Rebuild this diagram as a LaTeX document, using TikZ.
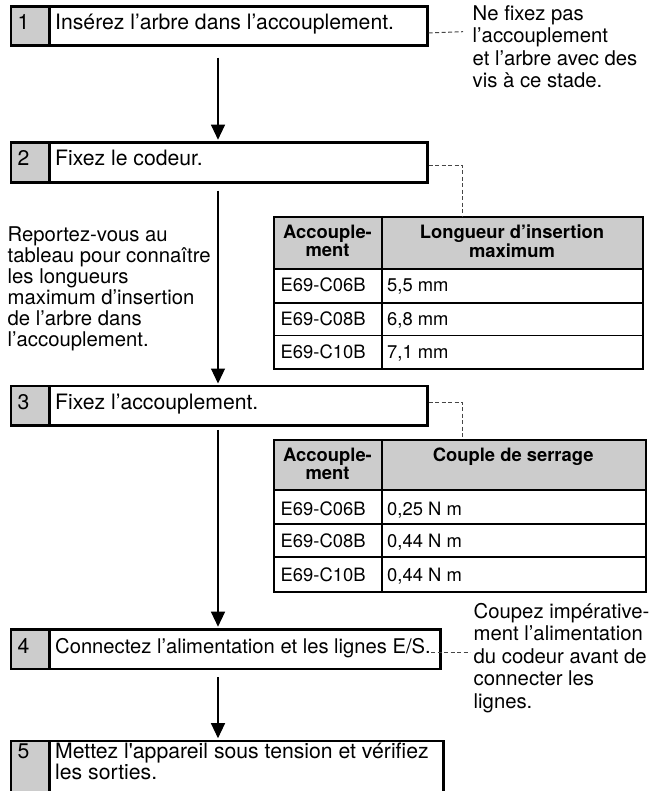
\documentclass[tikz,border=0pt]{standalone}
\usepackage{fontspec}
\setmainfont{TeX Gyre Heros}[Ligatures=TeXOff]
\usetikzlibrary{arrows.meta}
\definecolor{cellgray}{RGB}{204,204,204}
\definecolor{leadgray}{RGB}{70,70,70}
\newcommand{\stepfont}{\fontsize{21.2}{20}\selectfont}
\newcommand{\tabfont}{\fontsize{18.4}{16.8}\selectfont}
\tikzset{
  stepbox/.style={rectangle, draw, line width=2.6pt, inner sep=0pt, anchor=north west,
    path picture={
      \fill[cellgray] (path picture bounding box.north west) rectangle ([xshift=38.5pt]path picture bounding box.south west);
      \draw[line width=2.6pt] ([xshift=38.5pt]path picture bounding box.north west) -- ([xshift=38.5pt]path picture bounding box.south west);}},
  steptext/.style={inner sep=0pt, anchor=base west, font=\stepfont},
  notetext/.style={inner sep=0pt, anchor=base west},
  tabframe/.style={rectangle, draw, line width=2pt, inner sep=0pt, anchor=north west},
  tabtext/.style={inner sep=0pt, anchor=base west, font=\tabfont},
  tabhead/.style={inner sep=0pt, anchor=base, font=\tabfont\bfseries},
  rowline/.style={line width=1.3pt},
  flow/.style={line width=1.2pt, -{Triangle[width=14pt,length=15pt]}},
  lead/.style={draw=leadgray, line width=1pt, dash pattern=on 4pt off 2.5pt}
}
\begin{document}
\begin{tikzpicture}[x=1pt,y=-1pt]
\path[fill=white, use as bounding box] (0,0) rectangle (659,791);
\coordinate (axis) at (218,0);

% step boxes
\node[stepbox, minimum width=416.5pt, minimum height=39pt] (b1) at (9.5,5) {};
\node[stepbox, minimum width=416.5pt, minimum height=40pt] (b2) at (9.5,141) {};
\node[stepbox, minimum width=416.5pt, minimum height=39.5pt] (b3) at (9.5,384.8) {};
\node[stepbox, minimum width=429.5pt, minimum height=39.8pt] (b4) at (9.5,628) {};
\node[stepbox, minimum width=432.5pt, minimum height=51pt] (b5) at (9.5,739.5) {};

% numbers and texts
\node[steptext] (n1) at (17.5,29.5) {1};
\node[steptext] (t1) at (55,29.5) {Insérez l’arbre dans l’accouplement.};
\node[steptext] (n2) at (17.5,166) {2};
\node[steptext] (t2) at (55,166) {Fixez le codeur.};
\node[steptext] (n3) at (17.5,409.5) {3};
\node[steptext] (t3) at (55,409.5) {Fixez l’accouplement.};
\node[steptext] (n4) at (17.5,653) {4};
\node[steptext, font=\fontsize{20.2}{20}\selectfont] (t4) at (55,653) {Connectez l’alimentation et les lignes E/S.};
\node[steptext] (n5) at (17.5,758) {5};
\node[steptext] (t5) at (55,758) {\fontsize{21.2}{20}\selectfont\begin{tabular}[t]{@{}l@{}}Mettez l'appareil sous tension et vérifiez\\les sorties.\end{tabular}};

% flow arrows
\draw[flow, shorten <=11pt, shorten >=1.3pt] (b1.south -| axis) -- (b2.north -| axis);
\draw[flow, shorten <=7pt, shorten >=1.3pt] (b2.south -| axis) -- (b3.north -| axis);
\draw[flow, shorten <=3pt, shorten >=1.3pt] (b3.south -| axis) -- (b4.north -| axis);
\draw[flow, shorten <=7pt, shorten >=1.3pt] (b4.south -| axis) -- (b5.north -| axis);

% notes
\node[notetext] (note1) at (472.5,20.7) {\fontsize{20.3}{22.2}\selectfont\begin{tabular}[t]{@{}l@{}}Ne fixez pas\\l’accouplement\\et l’arbre avec des\\vis à ce stade.\end{tabular}};
\node[notetext] (note2) at (7.5,241.5) {\fontsize{20.3}{20.8}\selectfont\begin{tabular}[t]{@{}l@{}}Reportez-vous au\\tableau pour connaître\\les longueurs\\maximum d’insertion\\de l’arbre dans\\l’accouplement.\end{tabular}};
\node[notetext] (note4) at (473.5,618.3) {\fontsize{20.3}{22.5}\selectfont\begin{tabular}[t]{@{}l@{}}Coupez impérative-\\ment l’alimentation\\du codeur avant de\\connecter les\\lignes.\end{tabular}};

\coordinate (c1) at (463,31.7);
\coordinate (c4) at (470,652);
\draw[lead] ([yshift=-7.2pt]b1.east) -- (c1);

% table 1
\fill[cellgray] (273,216) rectangle (642,268.7);
\node[tabframe, minimum width=369pt, minimum height=152pt] (tab1) at (273,216) {};
\draw[line width=1.8pt] (273,268.7) -- (642,268.7);
\draw[rowline] (273,303) -- (642,303);
\draw[rowline] (273,335.5) -- (642,335.5);
\draw[rowline] (382,216) -- (382,368);
\node[tabhead] (h11) at (327.5,238.7) {\begin{tabular}[t]{@{}c@{}}Accouple-\\ment\end{tabular}};
\node[tabhead] (h12) at (512,238.7) {\begin{tabular}[t]{@{}c@{}}Longueur d’insertion\\maximum\end{tabular}};
\node[tabtext] (r11) at (280.5,291.7) {E69-C06B};
\node[tabtext] (v11) at (387,291.7) {5,5 mm};
\node[tabtext] (r12) at (280.5,325) {E69-C08B};
\node[tabtext] (v12) at (387,325) {6,8 mm};
\node[tabtext] (r13) at (280.5,358.3) {E69-C10B};
\node[tabtext] (v13) at (387,358.3) {7,1 mm};
\draw[lead] ([yshift=-3pt]b2.east) -| ([xshift=4.2pt]tab1.north);

% table 2
\fill[cellgray] (273,439) rectangle (644.5,490);
\node[tabframe, minimum width=371.5pt, minimum height=152pt] (tab2) at (273,439) {};
\draw[line width=1.8pt] (273,490) -- (644.5,490);
\draw[rowline] (273,524) -- (644.5,524);
\draw[rowline] (273,557) -- (644.5,557);
\draw[rowline] (382,439) -- (382,591);
\node[tabhead] (h21) at (327.5,461.7) {\begin{tabular}[t]{@{}c@{}}Accouple-\\ment\end{tabular}};
\node[tabhead] (h22) at (513.2,461.7) {Couple de serrage};
\node[tabtext] (r21) at (280.5,515) {E69-C06B};
\node[tabtext] (v21) at (387,515) {0,25 N m};
\node[tabtext] (r22) at (280.5,547) {E69-C08B};
\node[tabtext] (v22) at (387,547) {0,44 N m};
\node[tabtext] (r23) at (280.5,581) {E69-C10B};
\node[tabtext] (v23) at (387,581) {0,44 N m};
\draw[lead] ([yshift=3.5pt]b3.east) -| ([xshift=3pt]tab2.north);

% step 4 lead
\draw[lead] ([yshift=1pt]t4.base east) -- (c4);
\end{tikzpicture}
\end{document}
